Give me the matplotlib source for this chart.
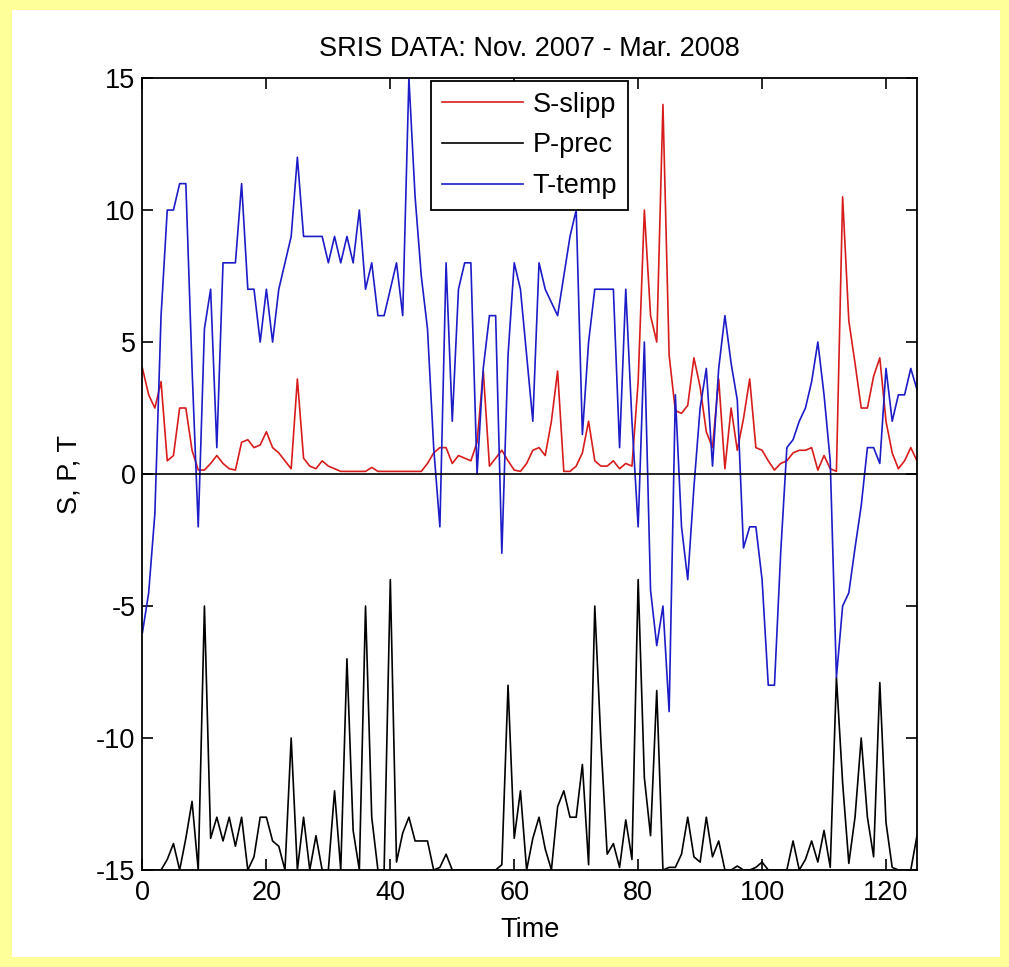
import numpy as np
import matplotlib.pyplot as plt
from matplotlib.patches import Rectangle

# SRIS daten, Nov. 2007 - Mar. 2008 (Tag 0..125)
time = np.arange(126)

slipp = [4, 3, 2.5, 3.5, 0.5, 0.7, 2.5, 2.5, 0.9, 0.15,
         0.15, 0.4, 0.7, 0.4, 0.2, 0.15, 1.2, 1.3, 1.0, 1.1,
         1.6, 1.0, 0.8, 0.5, 0.2, 3.6, 0.6, 0.3, 0.2, 0.5,
         0.3, 0.2, 0.1, 0.1, 0.1, 0.1, 0.1, 0.25, 0.1, 0.1,
         0.1, 0.1, 0.1, 0.1, 0.1, 0.1, 0.4, 0.8, 1.0, 1.0,
         0.4, 0.7, 0.6, 0.5, 1.2, 3.9, 0.3, 0.6, 0.9, 0.5,
         0.15, 0.1, 0.4, 0.9, 1.0, 0.7, 2.0, 3.9, 0.1, 0.1,
         0.3, 0.8, 2.0, 0.5, 0.3, 0.3, 0.5, 0.2, 0.4, 0.3,
         3.5, 10, 6, 5, 14, 4.5, 2.4, 2.3, 2.6, 4.4,
         3.3, 1.6, 1.0, 3.6, 0.2, 2.5, 0.9, 2.1, 3.6, 1.0,
         0.9, 0.5, 0.15, 0.4, 0.5, 0.8, 0.9, 0.9, 1.0, 0.15,
         0.7, 0.2, 0.1, 10.5, 5.8, 4.2, 2.5, 2.5, 3.7, 4.4,
         2.0, 0.8, 0.2, 0.5, 1.0, 0.5]

prec = [0, 0, 0, 0, 0.4, 1, 0, 1.2, 2.6, 0,
        10, 1.2, 2, 1.1, 2, 0.9, 2, 0, 0.5, 2,
        2, 1.1, 0.9, 0, 5, 0, 2, 0, 1.3, 0,
        0, 3, 0, 8, 1.5, 0, 10, 2, 0, 0,
        11, 0.3, 1.4, 2, 1.1, 1.1, 1.1, 0, 0.1, 0.6,
        0, 0, 0, 0, 0, 0, 0, 0, 0.2, 7,
        1.2, 3, 0, 1.2, 2, 0.8, 0, 2.4, 3, 2,
        2, 4, 0.2, 10, 4.8, 0.6, 1, 0.1, 1.9, 0.4,
        11, 3.5, 1.3, 6.8, 0, 0.1, 0.1, 0.6, 2, 0.5,
        0.3, 2, 0.5, 1.1, 0, 0, 0.15, 0, 0, 0.1,
        0.3, 0, 0, 0, 0, 1.1, 0, 0.4, 1.1, 0.3,
        1.5, 0.1, 7.3, 3.3, 0.25, 2, 5, 2, 0.5, 7.1,
        1.8, 0.1, 0, 0, 0, 1.3]

temp = [-6, -4.5, -1.5, 6, 10, 10, 11, 11, 4, -2,
        5.5, 7, 1, 8, 8, 8, 11, 7, 7, 5,
        7, 5, 7, 8, 9, 12, 9, 9, 9, 9,
        8, 9, 8, 9, 8, 10, 7, 8, 6, 6,
        7, 8, 6, 15, 10.5, 7.5, 5.5, 1, -2, 8,
        2, 7, 8, 8, 0, 4, 6, 6, -3, 4.5,
        8, 7, 4.5, 2, 8, 7, 6.5, 6, 7.5, 9,
        10, 1.5, 5, 7, 7, 7, 7, 1, 7, 2,
        -2, 5, -4.4, -6.5, -5, -9, 3, -2, -4, -0.5,
        2.5, 4, 0.3, 4, 6, 4.2, 2.8, -2.8, -2, -2,
        -4, -8, -8, -3, 1, 1.3, 2, 2.5, 3.5, 5,
        3, 0.5, -7.7, -5, -4.5, -2.8, -1.2, 1, 1, 0.4,
        4, 2, 3, 3, 4, 3.2]

plt.rcParams['font.family'] = ['Liberation Sans', 'DejaVu Sans']
plt.rcParams['axes.unicode_minus'] = False
fs = 19.5

fig = plt.figure(figsize=(10.09, 9.67), dpi=100, facecolor='#FFFF99')
# weisse flaeche im gelben rahmen
fig.add_artist(Rectangle((12 / 1009, 10 / 967), 988 / 1009, 947 / 967,
                         transform=fig.transFigure, facecolor='white',
                         edgecolor='none', zorder=-1))

ax = fig.add_axes([0.1412, 0.1003, 0.7676, 0.819])
ax.plot(time, slipp, color='#D81C1C', lw=1.2, label='S-slipp')
ax.plot(time, np.array(prec) - 15, color='black', lw=1.2, label='P-prec')
ax.plot(time, temp, color='#1C1CC8', lw=1.2, label='T-temp')
ax.axhline(0, color='black', lw=1.2)

ax.set_xlim(0, 125)
ax.set_ylim(-15, 15)
ax.set_xticks(range(0, 121, 20))
ax.set_yticks(range(-15, 16, 5))
ax.tick_params(direction='in', top=True, right=True, length=8, width=1.2,
               labelsize=fs)
ax.tick_params(axis='x', pad=7)
ax.tick_params(axis='y', pad=5)
for s in ax.spines.values():
    s.set_linewidth(1.3)

ax.set_title('SRIS DATA: Nov. 2007 - Mar. 2008', fontsize=fs, pad=16)
ax.set_xlabel('Time', fontsize=fs, labelpad=8)
ax.set_ylabel('S, P, T', fontsize=fs, labelpad=10)

leg = ax.legend(loc='upper center', fontsize=fs, fancybox=False,
                framealpha=1, edgecolor='black', borderaxespad=0.1,
                handlelength=3.0, handletextpad=0.35, labelspacing=0.55,
                borderpad=0.4)
leg.get_frame().set_linewidth(1.3)

fig.savefig('out.png', dpi=100, facecolor=fig.get_facecolor())
